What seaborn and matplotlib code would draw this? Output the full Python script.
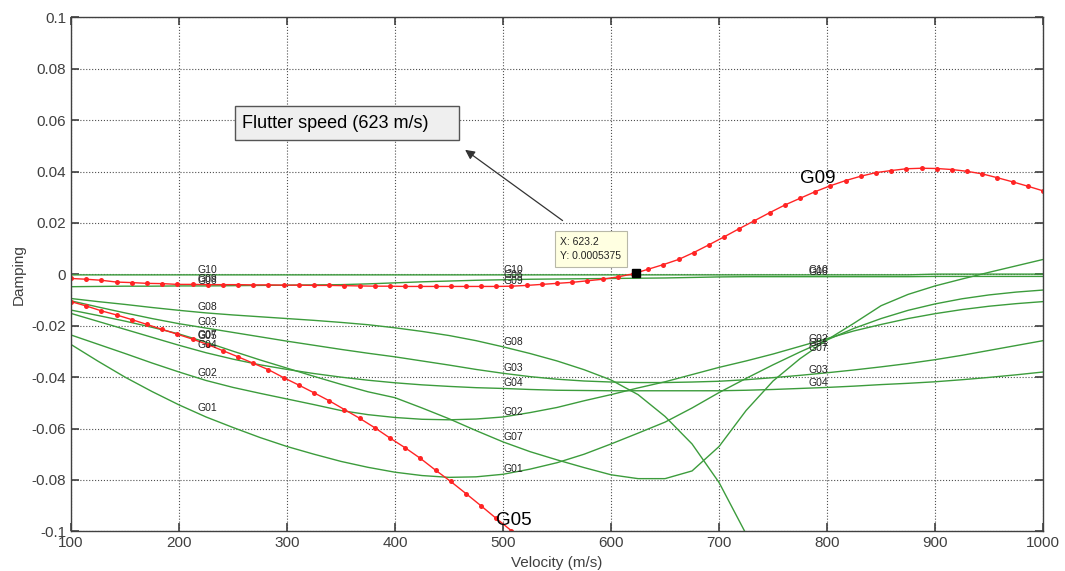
"""
Flutter analysis: damping vs velocity for the first 10 modes (V-g plot).
"""
import numpy as np
import matplotlib
matplotlib.use("Agg")
import matplotlib.pyplot as plt
import matplotlib.patches as mpatches
import seaborn as sns

# ── Data ──────────────────────────────────────────────────────────────────────
# solver velocity steps used for the marked (red) modes
V_FINE = np.linspace(100, 1000, 65)
# coarser velocity grid for the other modes
V = [100, 125, 150, 175, 200, 225, 250, 275, 300, 325, 350, 375, 400, 425, 450,
     475, 500, 525, 550, 575, 600, 625, 650, 675, 700, 725, 750, 775, 800, 825,
     850, 875, 900, 925, 950, 975, 1000]

G09 = [-0.0016, -0.0019, -0.0023, -0.0030, -0.0032, -0.0035, -0.0036, -0.0039, -0.0039, -0.0040,
       -0.0040, -0.0040, -0.0041, -0.0041, -0.0042, -0.0042, -0.0043, -0.0043, -0.0044, -0.0045,
       -0.0046, -0.0046, -0.0047, -0.0047, -0.0047, -0.0047, -0.0047, -0.0047, -0.0047, -0.0046,
       -0.0043, -0.0039, -0.0035, -0.0031, -0.0025, -0.0019, -0.0010, 0.0002, 0.0020, 0.0038,
       0.0058, 0.0085, 0.0115, 0.0146, 0.0178, 0.0209, 0.0240, 0.0270, 0.0296, 0.0322,
       0.0345, 0.0365, 0.0382, 0.0396, 0.0404, 0.0411, 0.0413, 0.0412, 0.0408, 0.0401,
       0.0391, 0.0376, 0.0360, 0.0343, 0.0325]

G05 = [-0.0106, -0.0123, -0.0142, -0.0158, -0.0176, -0.0195, -0.0214, -0.0233, -0.0252, -0.0273,
       -0.0297, -0.0321, -0.0346, -0.0371, -0.0402, -0.0431, -0.0461, -0.0492, -0.0526, -0.0560,
       -0.0597, -0.0637, -0.0675, -0.0716, -0.0762, -0.0806, -0.0853, -0.0901, -0.0950, -0.0998]

G01 = [-0.0273, -0.0338, -0.0400, -0.0456, -0.0508, -0.0555, -0.0596, -0.0635, -0.0670, -0.0700,
       -0.0728, -0.0751, -0.0770, -0.0783, -0.0790, -0.0788, -0.0778, -0.0758, -0.0733, -0.0700,
       -0.0660, -0.0618, -0.0575, -0.0520, -0.0460, -0.0405, -0.0352, -0.0302, -0.0255, -0.0210,
       -0.0172, -0.0140, -0.0115, -0.0095, -0.0080, -0.0069, -0.0061]
G02 = [-0.0236, -0.0272, -0.0308, -0.0345, -0.0380, -0.0413, -0.0440, -0.0463, -0.0485, -0.0507,
       -0.0530, -0.0546, -0.0557, -0.0564, -0.0566, -0.0563, -0.0555, -0.0538, -0.0518, -0.0492,
       -0.0468, -0.0442, -0.0418, -0.0390, -0.0362, -0.0337, -0.0310, -0.0280, -0.0250, -0.0220,
       -0.0195, -0.0172, -0.0153, -0.0137, -0.0124, -0.0114, -0.0106]
G03 = [-0.0103, -0.0127, -0.0150, -0.0172, -0.0192, -0.0209, -0.0226, -0.0243, -0.0260, -0.0276,
       -0.0292, -0.0307, -0.0321, -0.0337, -0.0353, -0.0370, -0.0385, -0.0398, -0.0408, -0.0415,
       -0.0419, -0.0421, -0.0421, -0.0419, -0.0416, -0.0410, -0.0402, -0.0393, -0.0383, -0.0372,
       -0.0360, -0.0347, -0.0332, -0.0315, -0.0296, -0.0277, -0.0258]
G04 = [-0.0152, -0.0183, -0.0214, -0.0245, -0.0276, -0.0305, -0.0330, -0.0352, -0.0370, -0.0386,
       -0.0400, -0.0412, -0.0422, -0.0430, -0.0436, -0.0441, -0.0444, -0.0448, -0.0451, -0.0452,
       -0.0453, -0.0453, -0.0453, -0.0453, -0.0453, -0.0451, -0.0448, -0.0444, -0.0440, -0.0435,
       -0.0429, -0.0424, -0.0418, -0.0410, -0.0401, -0.0391, -0.0380]
G06 = [-0.0048, -0.0047, -0.0046, -0.0046, -0.0045, -0.0045, -0.0044, -0.0043, -0.0042, -0.0041,
       -0.0040, -0.0037, -0.0033, -0.0029, -0.0026, -0.0023, -0.0021, -0.0019, -0.0018, -0.0017,
       -0.0016, -0.0015, -0.0014, -0.0012, -0.0010, -0.0009, -0.0009, -0.0009, -0.0009, -0.0009,
       -0.0009, -0.0009, -0.0008, -0.0008, -0.0008, -0.0008, -0.0008]
G07 = [-0.0139, -0.0160, -0.0182, -0.0206, -0.0232, -0.0264, -0.0299, -0.0333, -0.0365, -0.0397,
       -0.0428, -0.0457, -0.0480, -0.0520, -0.0562, -0.0608, -0.0652, -0.0690, -0.0722, -0.0752,
       -0.0780, -0.0795, -0.0795, -0.0765, -0.0670, -0.0530, -0.0415, -0.0328, -0.0255, -0.0190,
       -0.0122, -0.0078, -0.0045, -0.0018, 0.0008, 0.0033, 0.0058]
G08 = [-0.0094, -0.0106, -0.0117, -0.0129, -0.0140, -0.0150, -0.0158, -0.0165, -0.0172, -0.0179,
       -0.0187, -0.0196, -0.0208, -0.0222, -0.0238, -0.0258, -0.0282, -0.0308, -0.0337, -0.0371,
       -0.0411, -0.0468, -0.0553, -0.0660, -0.0810, -0.1010, np.nan, np.nan, np.nan, np.nan,
       np.nan, np.nan, np.nan, np.nan, np.nan, np.nan, np.nan]
G10 = [-0.0002, -0.0002, -0.0002, -0.0002, -0.0002, -0.0002, -0.0002, -0.0002, -0.0002, -0.0002,
       -0.0002, -0.0002, -0.0002, -0.0002, -0.0002, -0.0002, -0.0002, -0.0002, -0.0002, -0.0002,
       -0.0002, -0.0002, -0.0002, -0.0002, -0.0002, -0.0002, -0.0002, -0.0002, -0.0002, -0.0002,
       -0.0002, -0.0002, 0.0001, 0.0001, 0.0001, 0.0001, 0.0001]

X_TICKS = [100, 200, 300, 400, 500, 600, 700, 800, 900, 1000]
Y_TICKS = [-0.1, -0.08, -0.06, -0.04, -0.02, 0, 0.02, 0.04, 0.06, 0.08, 0.1]
Y_TICK_LABELS = ["-0.1", "-0.08", "-0.06", "-0.04", "-0.02", "0",
                 "0.02", "0.04", "0.06", "0.08", "0.1"]

# mode labels written along the curves at three velocities
LABEL_SETS = [
    (217, ["G10", "G09", "G06", "G08", "G03", "G05", "G07", "G04", "G02", "G01"]),
    (500, ["G10", "G06", "G09", "G08", "G03", "G04", "G02", "G07", "G01"]),
    (783, ["G10", "G06", "G02", "G01", "G07", "G03", "G04"]),
]

FLUTTER_V = 623.2
FLUTTER_G = 0.0005375

# ── Style ─────────────────────────────────────────────────────────────────────
GREEN = "#3c9c3c"
RED   = "#ff2424"
AXC   = "#404040"
TEXT  = "#222222"

sns.set_style("ticks")
plt.rcParams["font.family"] = ["Liberation Sans", "DejaVu Sans"]

fig = plt.figure(figsize=(10.65, 5.71), dpi=100)
ax = fig.add_axes([0.0667, 0.0695, 0.9127, 0.900])

green_modes = {"G01": G01, "G02": G02, "G03": G03, "G04": G04, "G06": G06,
               "G07": G07, "G08": G08, "G10": G10}
for name, vals in green_modes.items():
    sns.lineplot(x=V, y=vals, ax=ax, color=GREEN, lw=1.0)

sns.lineplot(x=V_FINE, y=G09, ax=ax, color=RED, lw=1.0, marker="o",
             markersize=3.6, markeredgewidth=0)
sns.lineplot(x=V_FINE[:len(G05)], y=G05, ax=ax, color=RED, lw=1.0, marker="o",
             markersize=3.6, markeredgewidth=0)

curves = {k: (np.array(V, float), np.array(v, float)) for k, v in green_modes.items()}
curves["G09"] = (V_FINE, np.array(G09))
curves["G05"] = (V_FINE[:len(G05)], np.array(G05))

for lx, names in LABEL_SETS:
    for name in names:
        xs, ys = curves[name]
        ok = ~np.isnan(ys)
        ly = np.interp(lx, xs[ok], ys[ok])
        ax.text(lx, ly, name, fontsize=7.5, color=TEXT, ha="left", va="bottom")

ax.text(791, 0.0375, "G09", fontsize=13.5, color="black", ha="center", va="center")
ax.text(510, -0.0958, "G05", fontsize=13.5, color="black", ha="center", va="center")

# flutter point data tip
ax.plot([FLUTTER_V], [FLUTTER_G], "s", color="black", ms=6, zorder=6)
ax.text(553, 0.0099, f"X: {FLUTTER_V}\nY: {FLUTTER_G}", fontsize=7.5, color=TEXT,
        ha="left", va="center", linespacing=1.5, zorder=6,
        bbox=dict(boxstyle="square,pad=0.55", fc="#ffffe1", ec="#b8b8a8", lw=0.8))

# callout box + arrow
ax.add_patch(mpatches.Rectangle((251.8, 0.0522), 207.6, 0.0133, fc="#efefef",
                                ec="#555555", lw=1.0, zorder=5))
ax.text(258, 0.0589, "Flutter speed (623 m/s)", fontsize=13, color="black",
        ha="left", va="center", zorder=6)
ax.annotate("", xy=(462.8, 0.0491), xytext=(557.2, 0.0203),
            arrowprops=dict(arrowstyle="-|>", color="#333333", lw=0.9,
                            mutation_scale=14), zorder=6)

# ── Axes ──────────────────────────────────────────────────────────────────────
ax.set_xlim(100, 1000)
ax.set_ylim(-0.1, 0.1)
ax.set_xticks(X_TICKS)
ax.set_yticks(Y_TICKS)
ax.set_yticklabels(Y_TICK_LABELS)
ax.grid(True, ls=":", color="#505050", lw=0.8)
ax.tick_params(direction="in", length=6, width=1.2, top=True, right=True,
               colors=AXC, labelsize=11, labelcolor=AXC)
for sp in ax.spines.values():
    sp.set_visible(True)
    sp.set_color(AXC)
    sp.set_linewidth(1.0)
ax.set_xlabel("Velocity (m/s)", fontsize=11, color=AXC)
ax.set_ylabel("Damping", fontsize=11, color=AXC)

fig.savefig("out.png", dpi=100, facecolor="white")
